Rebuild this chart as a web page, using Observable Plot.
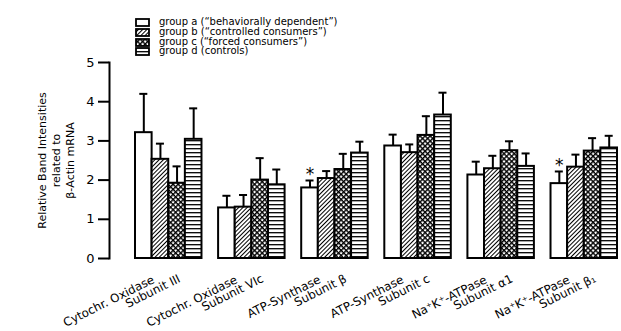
<!DOCTYPE html>
<html>
<head>
<meta charset="utf-8">
<script src="https://cdn.jsdelivr.net/npm/d3@7"></script>
<script src="https://cdn.jsdelivr.net/npm/@observablehq/plot@0.6"></script>
<style>
  html, body { margin: 0; padding: 0; background: #fff; }
  #wrap { position: relative; width: 621px; height: 331px; overflow: hidden; background: #fff; font-family: "DejaVu Sans", sans-serif; }
  #legend { position: absolute; left: 135px; top: 16px; }
  .row { position: absolute; left: 0; height: 10px; white-space: nowrap; font-size: 10px; line-height: 10px; color: #000; }
  .row svg { position: absolute; left: 0; top: 1px; }
  .row span { position: absolute; left: 24px; top: 0; }
</style>
</head>
<body>
<div id="wrap">
  <svg width="0" height="0" style="position:absolute">
    <defs>
      <pattern id="patB" patternUnits="userSpaceOnUse" width="3" height="3" patternTransform="rotate(45)">
        <rect width="3" height="3" fill="#fff"/>
        <line x1="0.5" y1="0" x2="0.5" y2="3" stroke="#000" stroke-width="1"/>
      </pattern>
      <pattern id="patC" patternUnits="userSpaceOnUse" width="3.6" height="3.6" patternTransform="rotate(45)">
        <rect width="3.6" height="3.6" fill="#fff"/>
        <line x1="0.7" y1="0" x2="0.7" y2="3.6" stroke="#000" stroke-width="1.4"/>
        <line x1="0" y1="0.7" x2="3.6" y2="0.7" stroke="#000" stroke-width="1.4"/>
      </pattern>
      <pattern id="patD" patternUnits="userSpaceOnUse" width="4" height="4">
        <rect width="4" height="4" fill="#fff"/>
        <line x1="0" y1="0.7" x2="4" y2="0.7" stroke="#000" stroke-width="1.3"/>
      </pattern>
    </defs>
  </svg>
  <div id="legend"></div>
  <div id="chart"></div>
</div>
<script>
// ---- data ----
const catLine1 = ["Cytochr. Oxidase", "Cytochr. Oxidase", "ATP-Synthase", "ATP-Synthase", "Na\u207AK\u207A-ATPase", "Na\u207AK\u207A-ATPase"];
const catLine2 = ["Subunit III", "Subunit VIc", "Subunit \u03B2", "Subunit c", "Subunit \u03B11", "Subunit \u03B2\u2081"];
const groups = ["a", "b", "c", "d"];
const groupLabels = [
  "group a (\u201Cbehaviorally dependent\u201D)",
  "group b (\u201Ccontrolled consumers\u201D)",
  "group c (\u201Cforced consumers\u201D)",
  "group d (controls)"
];
const meanA = [3.21, 1.29, 1.80, 2.87, 2.13, 1.91];
const meanB = [2.53, 1.31, 2.04, 2.70, 2.29, 2.33];
const meanC = [1.92, 2.00, 2.27, 3.14, 2.75, 2.74];
const meanD = [3.04, 1.88, 2.69, 3.66, 2.35, 2.82];
const sdA = [0.99, 0.31, 0.19, 0.29, 0.34, 0.31];
const sdB = [0.40, 0.31, 0.19, 0.21, 0.33, 0.32];
const sdC = [0.43, 0.56, 0.40, 0.49, 0.24, 0.33];
const sdD = [0.79, 0.39, 0.29, 0.57, 0.33, 0.31];
const significantA = [false, false, true, false, false, true];
const yTicks = [0, 1, 2, 3, 4, 5];
const yTitle = "Relative Band Intensities\nrelated to\n\u03B2-Actin mRNA";

// ---- build table ----
const means = [meanA, meanB, meanC, meanD];
const sds = [sdA, sdB, sdC, sdD];
const fills = ["#fff", "url(#patB)", "url(#patC)", "url(#patD)"];
const keys = [];
const rows = [];
catLine1.forEach((c, i) => {
  groups.forEach((g, j) => {
    const key = i + g;
    keys.push(key);
    rows.push({key, cat: i, group: g, mean: means[j][i], top: means[j][i] + sds[j][i], fill: fills[j], sig: j === 0 && significantA[i]});
  });
  if (i < catLine1.length - 1) keys.push("gap" + i);
});
const labelRows = catLine1.map((l1, i) => ({key: i + "c", l1, l2: catLine2[i]}));

// ---- legend ----
const legend = document.getElementById("legend");
const rowTops = [1, 11, 20.5, 30];
groupLabels.forEach((t, j) => {
  const r = document.createElement("div");
  r.className = "row";
  r.style.top = rowTops[j] + "px";
  r.innerHTML = `<svg width="15" height="9"><rect x="1" y="1" width="13" height="7" fill="${fills[j]}" stroke="#000" stroke-width="1.8"/></svg><span>${t}</span>`;
  legend.appendChild(r);
});

// ---- chart ----
const chart = Plot.plot({
  width: 621,
  height: 331,
  marginTop: 62,
  marginBottom: 73,
  marginLeft: 109,
  marginRight: 4,
  style: {fontFamily: "DejaVu Sans, sans-serif", fontSize: "13px", background: "transparent", color: "#000"},
  x: {domain: keys, range: [135, 617], paddingInner: 0, paddingOuter: 0, round: false, axis: null},
  y: {domain: [0, 5], axis: null},
  color: {type: "identity"},
  marks: [
    Plot.frame({anchor: "left", strokeWidth: 2}),
    Plot.axisY({ticks: yTicks, tickFormat: "d", tickSize: 11, tickPadding: 4, strokeWidth: 2, fontSize: 13, label: null}),
    Plot.text([yTitle], {frameAnchor: "left", dx: -54, rotate: -90, fontSize: 11, lineHeight: 1.25, textAnchor: "middle", lineAnchor: "middle"}),
    Plot.ruleX(rows, {x: "key", y1: "mean", y2: "top", strokeWidth: 2}),
    Plot.tickY(rows, {x: "key", y: "top", strokeWidth: 2, insetLeft: 4.3, insetRight: 4.3}),
    Plot.barY(rows, {x: "key", y: "mean", fill: "fill", stroke: "#000", strokeWidth: 2}),
    Plot.text(rows.filter(d => d.sig), {x: "key", y: "top", text: () => "*", fontSize: 17, dy: -6, lineAnchor: "middle"}),
    Plot.text(labelRows, {x: "key", text: "l1", frameAnchor: "bottom", rotate: -26.5, textAnchor: "end", lineAnchor: "middle", dx: -23.5, dy: 20.5, fontSize: 11.8}),
    Plot.text(labelRows, {x: "key", text: "l2", frameAnchor: "bottom", rotate: -26.5, textAnchor: "end", lineAnchor: "middle", dx: 2.5, dy: 19.5, fontSize: 11.8})
  ]
});
chart.style.position = "absolute";
chart.style.left = "0";
chart.style.top = "0";
document.getElementById("chart").appendChild(chart);
</script>
</body>
</html>
